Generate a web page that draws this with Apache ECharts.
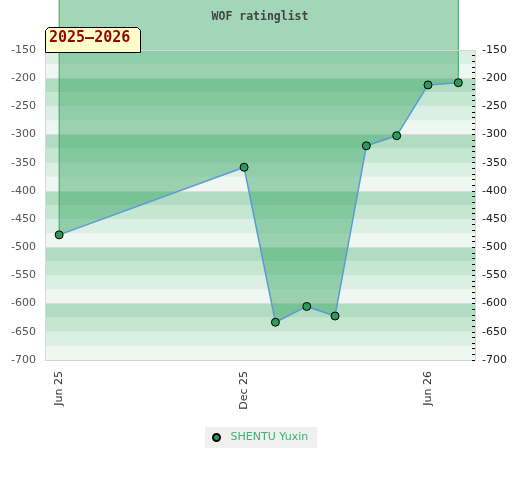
<!DOCTYPE html>
<html>
<head>
<meta charset="utf-8">
<script src="https://cdn.jsdelivr.net/npm/echarts@6/dist/echarts.min.js"></script>
<style>html,body{margin:0;padding:0;background:#fff}#c{width:520px;height:480px}</style>
</head>
<body>
<div id="c"></div>
<script>
const titleText = 'WOF ratinglist';
const seasonLabel = '2025–2026';
const seriesName = 'SHENTU Yuxin';
const dates = ['2025-06-01','2025-12-01','2026-01-01','2026-02-01','2026-03-01','2026-04-01','2026-05-01','2026-06-01','2026-07-01'];
const ratings = [-478, -358, -633, -605, -622, -320, -302, -212, -208];
const yMin = -700, yMax = -150, yStep = 50;
const areaOrigin = 0;
const monthNames = ['Jan','Feb','Mar','Apr','May','Jun','Jul','Aug','Sep','Oct','Nov','Dec'];

const xMin = new Date(2025, 4, 18).getTime();
const xMax = new Date(2026, 6, 17, 12).getTime();
const font = 'DejaVu Sans';

const chart = echarts.init(document.getElementById('c'), null, {renderer: 'canvas'});
const pts = dates.map((d, i) => [d, ratings[i]]);
const last = pts.length - 1;

function edgeSeries(i) {
  return {
    name: 'edge' + i, type: 'line', clip: false, silent: true, z: 1,
    symbol: 'none', data: [[dates[i], ratings[i]], [dates[i], areaOrigin]],
    lineStyle: {color: '#3aa864', width: 1}
  };
}

chart.setOption({
  animation: false,
  title: {
    text: titleText, left: 'center', top: 6, z: 50,
    textStyle: {fontFamily: 'DejaVu Sans Mono', fontWeight: 'bold', fontSize: 11.5, color: '#444'}
  },
  legend: {
    left: 205, top: 427, padding: [5, 9, 5, 7],
    backgroundColor: '#f0f0f0',
    itemWidth: 18, itemHeight: 7,
    icon: 'circle',
    textStyle: {color: '#3cb371', fontFamily: font, fontSize: 11},
    data: [seriesName]
  },
  grid: {left: 45, right: 45, top: 50, bottom: 120, containLabel: false, outerBoundsMode: 'none'},
  xAxis: [{
    type: 'time', min: xMin, max: xMax, splitNumber: 14,
    axisLine: {show: true, lineStyle: {color: '#d4d4d4'}},
    axisTick: {show: false}, splitLine: {show: false},
    axisLabel: {
      rotate: 90, margin: 11, color: '#333', fontFamily: font, fontSize: 11, hideOverlap: false,
      formatter: function (v) {
        const d = new Date(v);
        const m = d.getMonth();
        if (d.getDate() === 1 && d.getHours() === 0 && (m === 5 || m === 11)) {
          return monthNames[m] + ' ' + String(d.getFullYear()).slice(2);
        }
        return '';
      }
    }
  }, {
    type: 'time', min: xMin, max: xMax, position: 'top', z: 5,
    axisLine: {show: true, lineStyle: {color: '#d4d4d4'}},
    axisTick: {show: false}, axisLabel: {show: false}, splitLine: {show: false}
  }],
  yAxis: [{
    type: 'value', min: yMin, max: yMax, interval: yStep, position: 'left',
    axisLine: {show: true, lineStyle: {color: '#d8d8d8'}},
    axisTick: {show: false}, splitLine: {show: false},
    axisLabel: {color: '#555', fontFamily: font, fontSize: 11, margin: 9}
  }, {
    type: 'value', min: yMin, max: yMax, interval: yStep, position: 'right',
    axisLine: {show: true, lineStyle: {color: '#d8d8d8'}},
    axisTick: {show: true, inside: true, length: 3, lineStyle: {color: '#000'}},
    minorTick: {show: true, splitNumber: 5, length: 3, lineStyle: {color: '#000'}},
    splitLine: {show: false},
    axisLabel: {color: '#222', fontFamily: font, fontSize: 11, margin: 7}
  }, {
    type: 'value', min: yMin, max: yMax, interval: 25, position: 'left',
    axisLine: {show: false}, axisTick: {show: false}, axisLabel: {show: false}, splitLine: {show: false},
    splitArea: {show: true, areaStyle: {color: ['#eef7f2', '#dcefe4', '#c5e6d1', '#b0dcc1']}}
  }, {
    type: 'value', min: yMin, max: yMax, interval: 100, position: 'left',
    axisLine: {show: false}, axisTick: {show: false}, axisLabel: {show: false},
    splitLine: {show: true, lineStyle: {color: '#dcdcdc'}}
  }],
  series: [{
    name: seriesName, type: 'line', data: pts, clip: false, z: 2,
    symbol: 'circle', symbolSize: 8,
    itemStyle: {color: '#2e9a5a', borderColor: '#000', borderWidth: 1},
    lineStyle: {color: '#5b9bd5', width: 1.5},
    areaStyle: {origin: areaOrigin, color: 'rgba(50,165,95,0.45)', opacity: 1}
  }, edgeSeries(0), edgeSeries(last)],
  graphic: [{
    type: 'polygon', left: 45, top: 27, z: 100,
    shape: {points: [[0, 25], [0, 3], [3, 0], [92, 0], [95, 3], [95, 25]]},
    style: {fill: '#ffffcc', stroke: '#000', lineWidth: 1}
  }, {
    type: 'text', left: 49, top: 31, z: 101,
    style: {text: seasonLabel, fill: '#990000', font: 'bold 15px "DejaVu Sans Mono"'}
  }]
});
</script>
</body>
</html>
